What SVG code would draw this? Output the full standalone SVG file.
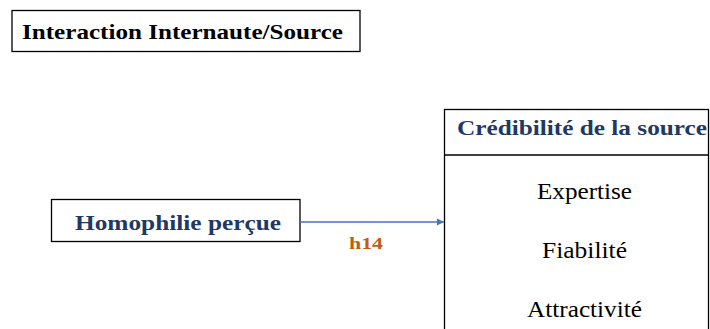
<svg xmlns="http://www.w3.org/2000/svg" width="710" height="329" viewBox="0 0 710 329">
<style>
.box{fill:#fff;stroke:#000;stroke-width:1.3}
.serif{font-family:"Liberation Serif","Times New Roman",serif}
.navy{fill:#1F3864;font-weight:bold}
.item{font-size:23px;fill:#000}
</style>
<defs>
<marker id="arr" markerWidth="8" markerHeight="8" refX="7" refY="4" orient="auto" markerUnits="userSpaceOnUse">
<path d="M0,0.5 L7,4 L0,7.5 Z" fill="#4472C4"/>
</marker>
</defs>
<rect width="710" height="329" fill="#fff"/>
<g id="title">
<rect class="box" x="12" y="10.5" width="348" height="41"/>
<text class="serif" x="22" y="39" font-size="21" font-weight="bold" fill="#000" textLength="321" lengthAdjust="spacingAndGlyphs">Interaction Internaute/Source</text>
</g>
<g id="homophilie">
<rect class="box" x="51.5" y="199.5" width="248.5" height="42"/>
<text class="serif navy" x="75" y="230" font-size="22" textLength="206" lengthAdjust="spacingAndGlyphs">Homophilie perçue</text>
</g>
<g id="credibilite">
<rect class="box" x="444.5" y="109.5" width="264" height="230"/>
<line x1="444.5" y1="155" x2="708.5" y2="155" stroke="#000" stroke-width="1.3"/>
<text class="serif navy" x="457" y="135" font-size="21" textLength="250" lengthAdjust="spacingAndGlyphs">Crédibilité de la source</text>
<text class="serif item" x="537" y="198.5" textLength="95" lengthAdjust="spacingAndGlyphs">Expertise</text>
<text class="serif item" x="542" y="258" textLength="85" lengthAdjust="spacingAndGlyphs">Fiabilité</text>
<text class="serif item" x="527" y="317" textLength="115" lengthAdjust="spacingAndGlyphs">Attractivité</text>
</g>
<g id="connectors">
<line x1="300" y1="222" x2="444" y2="222" stroke="#4472C4" stroke-width="1.3" marker-end="url(#arr)"/>
<text class="serif" x="349" y="249" font-size="17" font-weight="bold" fill="#C55A11" textLength="34" lengthAdjust="spacingAndGlyphs">h14</text>
</g>
</svg>
